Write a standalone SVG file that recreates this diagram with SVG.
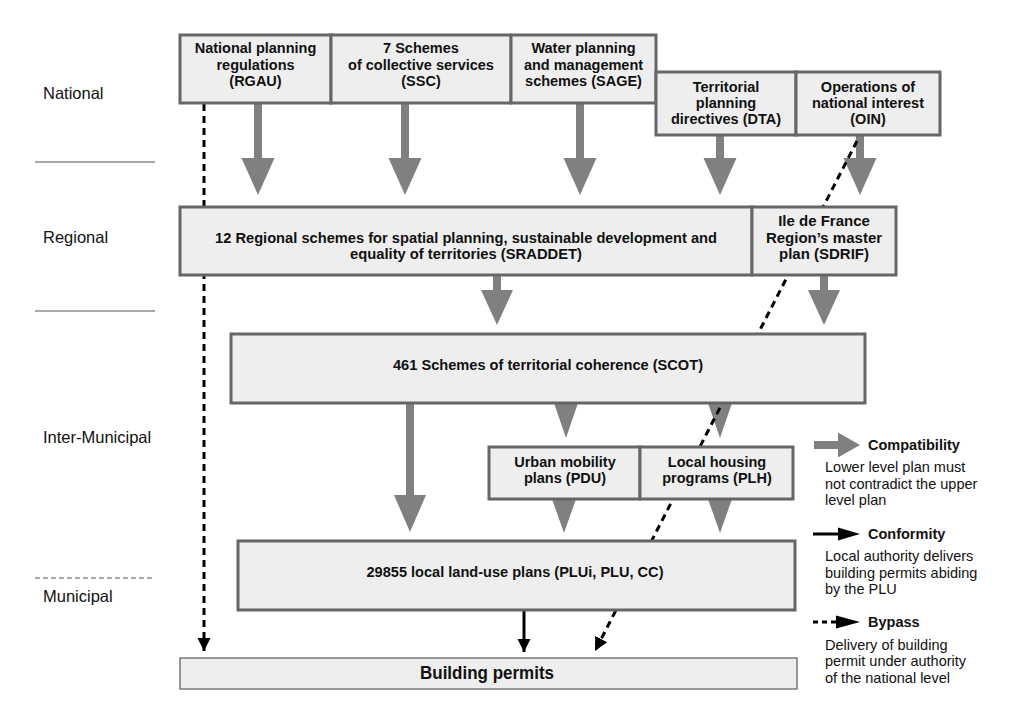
<svg xmlns="http://www.w3.org/2000/svg" width="1024" height="724" viewBox="0 0 1024 724">
<defs>
<style>
.box{fill:#eeeeee;stroke:#666666;stroke-width:3}
.thin{fill:#eeeeee;stroke:#666666;stroke-width:1.3}
.t{font-family:"Liberation Sans",Arial,sans-serif;font-weight:bold;font-size:14.5px;fill:#111;text-anchor:middle}
.n{font-family:"Liberation Sans Narrow","Liberation Sans",Arial,sans-serif;font-weight:bold;font-size:15px;fill:#111;text-anchor:middle}
.lvl{font-family:"Liberation Sans",Arial,sans-serif;font-size:16.5px;fill:#111}
.lg{font-family:"Liberation Sans",Arial,sans-serif;font-size:14.5px;fill:#111}
.lgb{font-family:"Liberation Sans",Arial,sans-serif;font-size:14.5px;font-weight:bold;fill:#111}
.gray{fill:#808080}
.sep{stroke:#555;stroke-width:1}
.blk{stroke:#000;stroke-width:3;fill:none}
.dash{stroke:#000;stroke-width:3;fill:none;stroke-dasharray:7 5}
</style>
<marker id="bh" viewBox="0 0 10 10" refX="10" refY="5" markerWidth="4.5" markerHeight="4.5" markerUnits="strokeWidth" orient="auto">
<path d="M0,0 L10,5 L0,10 Z" fill="#000"/>
</marker>
</defs>

<g id="levels">
<text class="lvl" x="43" y="99">National</text>
<line class="sep" x1="35" y1="162" x2="155" y2="162"/>
<text class="lvl" x="43" y="243">Regional</text>
<line class="sep" x1="35" y1="311" x2="155" y2="311"/>
<text class="lvl" x="43" y="443">Inter-Municipal</text>
<line class="sep" x1="35" y1="578" x2="155" y2="578" stroke-dasharray="5 3"/>
<text class="lvl" x="43" y="602">Municipal</text>
</g>

<g id="connectors">
<path class="gray" d="M254,103 h8 v55 h12.5 l-16.5,37 l-16.5,-37 h12.5 z"/>
<path class="gray" d="M401,103 h8 v55 h12.5 l-16.5,37 l-16.5,-37 h12.5 z"/>
<path class="gray" d="M576,103 h8 v55 h12.5 l-16.5,37 l-16.5,-37 h12.5 z"/>
<path class="gray" d="M716,135 h8 v23 h12.5 l-16.5,37 l-16.5,-37 h12.5 z"/>
<path class="gray" d="M856,135 h8 v23 h12.5 l-16.5,37 l-16.5,-37 h12.5 z"/>
<path class="gray" d="M493,275 h8 v15 h12 l-16,35 l-16,-35 h12 z"/>
<path class="gray" d="M820,275 h8 v15 h12 l-16,35 l-16,-35 h12 z"/>
<path class="gray" d="M406,403 h8 v92 h12 l-16,37 l-16,-37 h12 z"/>
<path class="gray" d="M554,403 h24 l-12,35 z"/>
<path class="gray" d="M708,403 h24 l-12,35 z"/>
<path class="gray" d="M552,499 h24 l-12,34 z"/>
<path class="gray" d="M708,499 h24 l-12,34 z"/>
<line class="blk" x1="524" y1="610" x2="524" y2="652" marker-end="url(#bh)"/>
<line class="dash" x1="204" y1="104" x2="204" y2="651" marker-end="url(#bh)"/>
<line class="dash" x1="857" y1="141" x2="595" y2="651" marker-end="url(#bh)"/>
</g>

<g id="rgau"><rect class="box" x="180" y="35" width="151" height="68"/>
<text class="t" x="255.5" y="53">National planning</text><text class="t" x="255.5" y="70">regulations</text><text class="t" x="255.5" y="86">(RGAU)</text></g>
<g id="ssc"><rect class="box" x="331" y="35" width="180" height="68"/>
<text class="t" x="421" y="53">7 Schemes</text><text class="t" x="421" y="70">of collective services</text><text class="t" x="421" y="86">(SSC)</text></g>
<g id="sage"><rect class="box" x="511" y="35" width="145" height="68"/>
<text class="t" x="583.5" y="53">Water planning</text><text class="t" x="583.5" y="70">and management</text><text class="t" x="583.5" y="86">schemes (SAGE)</text></g>
<g id="dta"><rect class="box" x="656" y="72" width="140" height="63"/>
<text class="t" x="726" y="92">Territorial</text><text class="t" x="726" y="108">planning</text><text class="t" x="726" y="124">directives (DTA)</text></g>
<g id="oin"><rect class="box" x="796" y="72" width="144" height="63"/>
<text class="t" x="868" y="92">Operations of</text><text class="t" x="868" y="108">national interest</text><text class="t" x="868" y="124">(OIN)</text></g>

<g id="sraddet"><rect class="box" x="180" y="207" width="572" height="68"/>
<text class="n" x="466" y="243" textLength="502" lengthAdjust="spacingAndGlyphs">12 Regional schemes for spatial planning, sustainable development and</text>
<text class="n" x="466" y="259" textLength="232" lengthAdjust="spacingAndGlyphs">equality of territories (SRADDET)</text></g>
<g id="sdrif"><rect class="box" x="752" y="207" width="144" height="68"/>
<text class="n" x="824" y="226">Ile de France</text><text class="n" x="824" y="243">Region’s master</text><text class="n" x="824" y="259">plan (SDRIF)</text></g>

<g id="scot"><rect class="box" x="231" y="334" width="634" height="69"/>
<text class="n" x="548" y="370" textLength="310" lengthAdjust="spacingAndGlyphs">461 Schemes of territorial coherence (SCOT)</text></g>

<g id="pdu"><rect class="box" x="489" y="447" width="151" height="52"/>
<text class="t" x="565" y="467">Urban mobility</text><text class="t" x="565" y="483">plans (PDU)</text></g>
<g id="plh"><rect class="box" x="640" y="447" width="153" height="52"/>
<text class="t" x="717" y="467">Local housing</text><text class="t" x="717" y="483">programs (PLH)</text></g>

<g id="plu"><rect class="box" x="238" y="541" width="557" height="69"/>
<text class="n" x="515" y="577" textLength="297" lengthAdjust="spacingAndGlyphs">29855 local land-use plans (PLUi, PLU, CC)</text></g>

<g id="permits"><rect class="thin" x="180" y="658" width="617" height="31"/>
<text class="n" x="487" y="679" style="font-size:17.5px" textLength="134" lengthAdjust="spacingAndGlyphs">Building permits</text></g>

<g id="legend">
<path class="gray" d="M814,441 h24 v-8.5 l22,12.5 l-22,12.5 v-8.5 h-24 z"/>
<text class="lgb" x="868" y="450">Compatibility</text>
<text class="lg" x="825" y="472">Lower level plan must</text>
<text class="lg" x="825" y="489">not contradict the upper</text>
<text class="lg" x="825" y="505">level plan</text>
<line class="blk" x1="813" y1="534" x2="845" y2="534"/>
<path d="M838,527.5 L860,534 L838,540.5 Z" fill="#000"/>
<text class="lgb" x="868" y="539">Conformity</text>
<text class="lg" x="825" y="561">Local authority delivers</text>
<text class="lg" x="825" y="578">building permits abiding</text>
<text class="lg" x="825" y="594">by the PLU</text>
<line class="blk" x1="813" y1="622" x2="840" y2="622" stroke-dasharray="5 4"/>
<path d="M836,615.5 L860,622 L836,628.5 Z" fill="#000"/>
<text class="lgb" x="868" y="627">Bypass</text>
<text class="lg" x="825" y="650">Delivery of building</text>
<text class="lg" x="825" y="666">permit under authority</text>
<text class="lg" x="825" y="683">of the national level</text>
</g>
</svg>
